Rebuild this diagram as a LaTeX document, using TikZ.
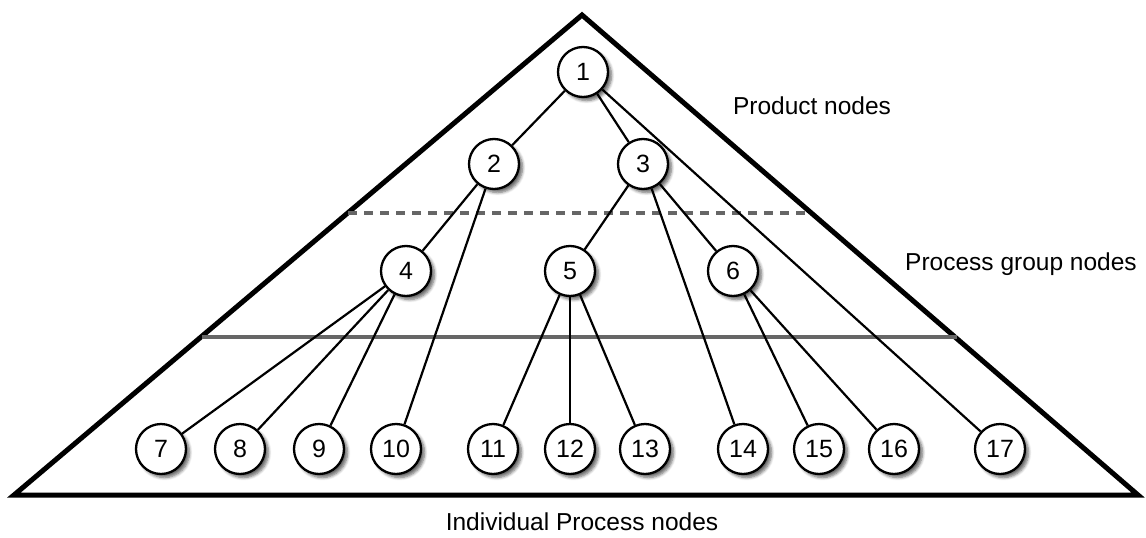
\documentclass[tikz,border=0pt]{standalone}
\usepackage{fontspec}
\setmainfont{Liberation Sans}
\usetikzlibrary{shadows.blur}
\begin{document}
\begin{tikzpicture}[x=1pt,y=-1pt,
  tnode/.style={circle,draw,line width=2.3pt,fill=white,minimum size=50pt,inner sep=0pt,
    font=\fontsize{25}{29}\selectfont,
    blur shadow={shadow xshift=3.5pt,shadow yshift=-3.5pt,shadow blur steps=6,shadow opacity=60,shadow blur radius=3pt}},
  edge/.style={line width=2.2pt},
  lbl/.style={font=\fontsize{24.5}{29}\selectfont,inner sep=0pt},
  layer/.style={line width=3.2pt,color=black!60}]
\useasboundingbox (0,0) rectangle (1146,538);
% triangle
\coordinate (apex) at (582,15);
\coordinate (bl) at (14,495);
\coordinate (br) at (1138,495);
\draw[line width=5pt,line join=miter] (bl) -- (apex) -- (br) -- cycle;
% layer lines
\coordinate (dl) at (348,213);
\coordinate (dr) at (810,213);
\coordinate (sl) at (202,337);
\coordinate (sr) at (957,337);
\draw[layer,dash pattern=on 9pt off 7pt] (dl) -- (dr);
\draw[layer] (sl) -- (sr);
% nodes
\node[tnode] (n1) at (583,72) {1};
\node[tnode] (n2) at (494,164) {2};
\node[tnode] (n3) at (643,164) {3};
\node[tnode] (n4) at (406,271) {4};
\node[tnode] (n5) at (570,271) {5};
\node[tnode] (n6) at (733,271) {6};
\node[tnode] (n7) at (161,449) {7};
\node[tnode] (n8) at (240,449) {8};
\node[tnode] (n9) at (319,449) {9};
\node[tnode] (n10) at (396,449) {10};
\node[tnode] (n11) at (493,449) {11};
\node[tnode] (n12) at (570,449) {12};
\node[tnode] (n13) at (645,449) {13};
\node[tnode] (n14) at (743,449) {14};
\node[tnode] (n15) at (819,449) {15};
\node[tnode] (n16) at (894,449) {16};
\node[tnode] (n17) at (1000,449) {17};
% edges
\foreach \a/\b in {n1/n2,n1/n3,n1/n17,n2/n4,n2/n10,n3/n5,n3/n6,n3/n14,n4/n7,n4/n8,n4/n9,n5/n11,n5/n12,n5/n13,n6/n15,n6/n16}
  \draw[edge] (\a) -- (\b);
% labels
\node[lbl] (lp) at (812,106) {Product nodes};
\node[lbl] (lg) at (1021,264) {Process group nodes};
\node[lbl] (li) at (582,522) {Individual Process nodes};
\end{tikzpicture}
\end{document}
